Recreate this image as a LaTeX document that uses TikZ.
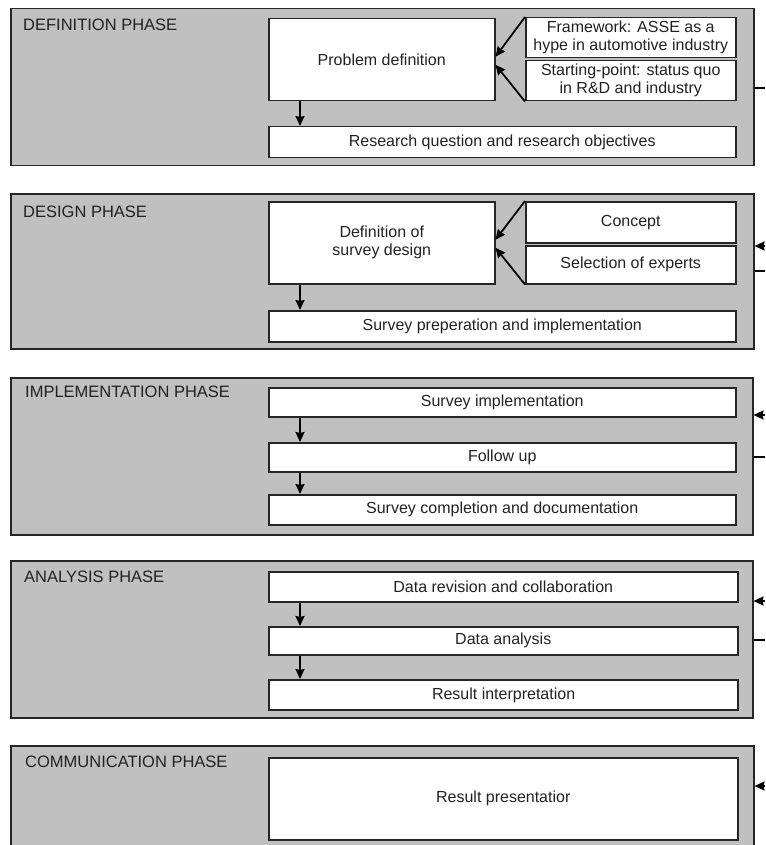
\documentclass[tikz,border=0pt]{standalone}
\usepackage{fontspec}
\setmainfont{Liberation Sans}
\usetikzlibrary{arrows.meta}
\definecolor{phasegray}{HTML}{C0C0C0}
\definecolor{txt}{HTML}{222222}
\begin{document}
\begin{tikzpicture}[x=1pt,y=-1pt,
  phase/.style={draw=black!85, line width=1.5pt, fill=phasegray, anchor=north west, inner sep=0pt},
  box/.style={draw=black!85, line width=1.5pt, fill=white, anchor=north west, inner sep=0pt, align=center,
    text=txt, font=\fontsize{16}{18}\selectfont},
  plabel/.style={anchor=west, inner sep=0pt, text=txt, font=\fontsize{16.5}{18}\selectfont},
  arr/.style={line width=1.8pt, -{Stealth[length=10pt,width=9pt,inset=1pt]}},
  ln/.style={line width=1.3pt}]
\useasboundingbox (0,0) rectangle (765,845);
\clip (0,0) rectangle (765,845);
\fill[white] (0,0) rectangle (765,845);

% ---------- Definition phase
\node[phase, minimum width=743pt, minimum height=157pt] (p1) at (10,8) {};
\node[plabel] (l1) at (23,25) {DEFINITION PHASE};
\node[box, minimum width=226pt, minimum height=82pt] (prob) at (268,18) {Problem definition};
\node[box, minimum width=210pt, minimum height=40pt] (frame) at (525,17) {Framework: ASSE as a\\hype in automotive industry};
\node[box, minimum width=210pt, minimum height=40pt] (start) at (525,60) {Starting-point: status quo\\in R\&D and industry};
\node[box, minimum width=467pt, minimum height=31pt] (rq) at (268,126) {Research question and research objectives};
\draw[arr] ([xshift=32pt]prob.south west) -- ([xshift=32pt]prob.south west |- rq.north);
\draw[arr] (frame.north west) -- ([yshift=3pt]prob.east);
\draw[arr] (start.south west) -- ([yshift=-5pt]prob.east);
\coordinate (o1) at (765,88);
\draw[ln] (p1.east |- o1) -- (o1);

% ---------- Design phase
\node[phase, minimum width=743pt, minimum height=155pt] (p2) at (10,193) {};
\node[plabel] (l2) at (23,212) {DESIGN PHASE};
\node[box, minimum width=226pt, minimum height=82pt] (dsd) at (268,201) {Definition of\\survey design};
\node[box, minimum width=210pt, minimum height=41pt] (concept) at (525,201) {Concept};
\node[box, minimum width=210pt, minimum height=38pt] (sel) at (525,245) {Selection of experts};
\node[box, minimum width=467pt, minimum height=31pt] (prep) at (268,310) {Survey preperation and implementation};
\draw[arr] ([xshift=32pt]dsd.south west) -- ([xshift=32pt]dsd.south west |- prep.north);
\draw[arr] (concept.north west) -- ([yshift=3pt]dsd.east);
\draw[arr] (sel.south west) -- ([yshift=-5pt]dsd.east);
\coordinate (i2) at (765,246);
\coordinate (o2) at (765,271);
\draw[arr] (i2) -- (p2.east |- i2);
\draw[ln] (p2.east |- o2) -- (o2);

% ---------- Implementation phase
\node[phase, minimum width=742pt, minimum height=157pt] (p3) at (10,377) {};
\node[plabel] (l3) at (25,392) {IMPLEMENTATION PHASE};
\node[box, minimum width=467pt, minimum height=29pt] (si) at (268,387) {Survey implementation};
\node[box, minimum width=467pt, minimum height=29pt] (fu) at (268,442) {Follow up};
\node[box, minimum width=467pt, minimum height=30pt] (sc) at (268,494) {Survey completion and documentation};
\draw[arr] ([xshift=32pt]si.south west) -- ([xshift=32pt]si.south west |- fu.north);
\draw[arr] ([xshift=32pt]fu.south west) -- ([xshift=32pt]fu.south west |- sc.north);
\coordinate (i3) at (765,415);
\coordinate (o3) at (765,457);
\draw[arr] (i3) -- (p3.east |- i3);
\draw[ln] (p3.east |- o3) -- (o3);

% ---------- Analysis phase
\node[phase, minimum width=742pt, minimum height=157pt] (p4) at (10,560) {};
\node[plabel] (l4) at (24,577) {ANALYSIS PHASE};
\node[box, minimum width=469pt, minimum height=30pt] (dr) at (268,571) {Data revision and collaboration};
\node[box, minimum width=469pt, minimum height=28pt] (da) at (268,626) {Data analysis};
\node[box, line width=2.2pt, minimum width=469pt, minimum height=30pt] (ri) at (268,679) {Result interpretation};
\draw[arr] ([xshift=32pt]dr.south west) -- ([xshift=32pt]dr.south west |- da.north);
\draw[arr] ([xshift=32pt]da.south west) -- ([xshift=32pt]da.south west |- ri.north);
\coordinate (i4) at (765,601);
\coordinate (o4) at (765,640);
\draw[arr] (i4) -- (p4.east |- i4);
\draw[ln] (p4.east |- o4) -- (o4);

% ---------- Communication phase
\node[phase, minimum width=743pt, minimum height=115pt] (p5) at (10,745) {};
\node[plabel] (l5) at (25,762) {COMMUNICATION PHASE};
\node[box, minimum width=469pt, minimum height=82pt] (rp) at (268,757) {Result presentatior};
\coordinate (i5) at (765,786);
\draw[arr] (i5) -- (p5.east |- i5);
\end{tikzpicture}
\end{document}
